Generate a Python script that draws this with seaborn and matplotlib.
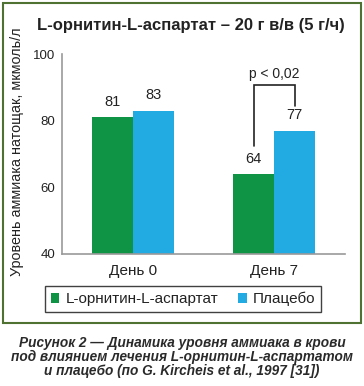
import matplotlib
matplotlib.use("Agg")
import matplotlib.pyplot as plt
import seaborn as sns
import pandas as pd
from matplotlib.patches import Rectangle, Patch

categories = ["День 0", "День 7"]
series_names = ["L-орнитин-L-аспартат", "Плацебо"]
lola_values = [81, 64]
placebo_values = [83, 77]
y_ticks = [40, 60, 80, 100]
title = "L-орнитин-L-аспартат – 20 г в/в (5 г/ч)"
y_label = "Уровень аммиака натощак, мкмоль/л"
p_text = "p < 0,02"
caption = ("Рисунок 2 — Динамика уровня аммиака в крови\n"
           "под влиянием лечения L-орнитин-L-аспартатом\n"
           "и плацебо (по G. Kircheis et al., 1997 [31])")

colors = ["#0f9446", "#22aae2"]

df = pd.DataFrame({
    "day": categories * 2,
    "group": [series_names[0]] * 2 + [series_names[1]] * 2,
    "value": lola_values + placebo_values,
})

sns.set_style("white")
plt.rcParams["font.family"] = ["Liberation Sans", "DejaVu Sans"]

fig = plt.figure(figsize=(3.64, 3.86), dpi=100)
ax = fig.add_axes([0.1703, 0.342, 0.7775, 0.518])

sns.barplot(data=df, x="day", y="value", hue="group", palette=colors,
            width=0.58, ax=ax, legend=False, saturation=1, linewidth=0,
            order=categories, hue_order=series_names)

ax.set_ylim(40, 100)
ax.set_xlim(-0.5, 1.5)
ax.set_yticks(y_ticks)
ax.set_yticklabels([str(t) for t in y_ticks], fontsize=9.5, color="#222222")
ax.set_xticks([0, 1])
ax.set_xticklabels(categories, fontsize=11, color="#222222")
ax.set_xticks([0.5], minor=True)
ax.tick_params(axis="x", which="major", length=0, pad=7)
ax.tick_params(axis="x", which="minor", length=3, width=1, color="#999999", direction="out")
ax.tick_params(axis="y", length=3, width=1, color="#999999", direction="out", pad=2)
ax.set_xlabel("")
ax.set_ylabel("")
for s in ["top", "right"]:
    ax.spines[s].set_visible(False)
for s in ["left", "bottom"]:
    ax.spines[s].set_color("#999999")
    ax.spines[s].set_linewidth(1.2)

for cont in ax.containers:
    ax.bar_label(cont, fmt="%d", padding=6, fontsize=10.5, color="#222222")

# significance bracket between the day-7 bars
bars7 = [ax.containers[0][1], ax.containers[1][1]]
xl = bars7[0].get_x() + bars7[0].get_width() / 2
xr = bars7[1].get_x() + bars7[1].get_width() / 2
ybr = 90.8
ax.plot([xl, xl, xr, xr], [72.5, ybr, ybr, 84.5], color="#222222", lw=1.2,
        solid_joinstyle="miter", clip_on=False)
ax.text((xl + xr) / 2, ybr + 1.0, p_text, ha="center", va="bottom",
        fontsize=10, color="#222222")

fig.text(0.525, 0.935, title, ha="center", va="center", fontsize=12,
         fontweight="bold", color="#222222")
fig.text(0.047, 0.606, y_label, ha="center", va="center", rotation=90,
         fontsize=10.4, color="#222222")

handles = [Patch(facecolor=colors[0], edgecolor="none"),
           Patch(facecolor=colors[1], edgecolor="none")]
leg = fig.legend(handles, series_names, loc="center", bbox_to_anchor=(0.503, 0.225),
                 ncol=2, fontsize=11, frameon=True, fancybox=False,
                 handlelength=0.55, handleheight=0.55, handletextpad=0.4,
                 columnspacing=1.3, borderpad=0.4, borderaxespad=0)
leg.get_frame().set_edgecolor("#111111")
leg.get_frame().set_linewidth(1.0)
for t in leg.get_texts():
    t.set_color("#222222")

fig.add_artist(Rectangle((0.009, 0.163), 0.982, 0.829, transform=fig.transFigure,
                         fill=False, edgecolor="#4f7233", linewidth=1.5))

fig.text(0.5, 0.075, caption, ha="center", va="center", fontsize=9.8,
         fontweight="bold", fontstyle="italic", color="#2a2a2a", linespacing=1.0)

fig.savefig("out.png", dpi=100)
